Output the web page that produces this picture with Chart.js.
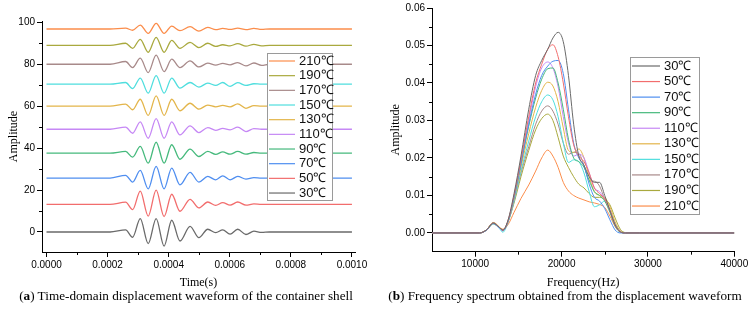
<!DOCTYPE html>
<html>
<head>
<meta charset="utf-8">
<script src="https://cdn.jsdelivr.net/npm/chart.js@4.4.0/dist/chart.umd.min.js"></script>
<style>
  body { margin: 0; width: 753px; height: 318px; background: #fff; position: relative; overflow: hidden; }
  canvas { position: absolute; top: 0; }
  #waveCanvas { left: 0; }
  #specCanvas { left: 380px; }
  .caption { position: absolute; top: 288px; font-family: "Liberation Serif", "DejaVu Serif", serif; font-size: 13.2px; color: #000; white-space: nowrap; transform: translateX(-50%); }
</style>
</head>
<body>
<canvas id="waveCanvas" width="378" height="290"></canvas>
<canvas id="specCanvas" width="373" height="290"></canvas>
<div class="caption" style="left:186px">(<b>a</b>) Time-domain displacement waveform of the container shell</div>
<div class="caption" style="left:565px">(<b>b</b>) Frequency spectrum obtained from the displacement waveform</div>
<script>
const tempLabels = ["30℃", "50℃", "70℃", "90℃", "110℃", "130℃", "150℃", "170℃", "190℃", "210℃"];
const lineColors = ["#6a6a6a", "#f26d6d", "#4f8ef0", "#45b97c", "#c688f5", "#e3b54a", "#4fdede", "#a88a8a", "#a9a93e", "#fb8d4b"];

// (a) time-domain waveforms, read at peaks / troughs
const waveTime = [0, 0.000208, 0.000259, 0.000282, 0.000307, 0.000333, 0.000359, 0.000385, 0.000410, 0.000437, 0.000470,
  0.000499, 0.000528, 0.000554, 0.000577, 0.000601, 0.000626, 0.000653, 0.000679, 0.000704, 0.000730, 0.001];
const wave30 = [0, 0, 1, -2.5, 6.4, -5.5, 6.4, -6.7, 5.6, -4.3, 2.7, -2.7, 1.3, -0.3, 1, -1, 1.3, -1.2, 0.4, -0.2, 0, 0];
const wave50 = [13.2, 13.2, 14.2, 10.7, 19.5, 7.6, 20.0, 7.4, 18.0, 9.9, 15.6, 11.5, 14.3, 12.7, 14.0, 12.8, 14.3, 12.8, 13.4, 13.2, 13.2, 13.2];
const wave70 = [25.7, 25.7, 27.0, 23.8, 29.4, 20.6, 31.3, 20.6, 30.5, 22.5, 28.4, 23.8, 26.5, 24.9, 26.8, 24.9, 26.5, 25.2, 25.9, 25.7, 25.7, 25.7];
const wave90 = [37.6, 37.6, 38.4, 35.7, 40.8, 32.8, 42.8, 32.8, 41.6, 34.7, 39.5, 36.0, 38.4, 37.0, 38.2, 37.1, 38.4, 37.1, 37.9, 37.6, 37.6, 37.6];
const wave110 = [49, 49, 50, 47.1, 52.5, 44.7, 54.1, 44.7, 52.5, 46.3, 50.6, 47.4, 49.8, 48.5, 49.4, 48.7, 50, 47.9, 49.3, 49, 49, 49];
const wave130 = [60, 60, 61, 58.3, 63.3, 55.6, 64.9, 55.6, 63.3, 57.8, 61.4, 58.6, 60.5, 59.7, 60.4, 59.7, 61.1, 59, 60.3, 60, 60, 60];
const wave150 = [70.5, 70.5, 71.3, 68.4, 73.4, 66.2, 74.6, 66.2, 73.4, 68.6, 71.3, 69.1, 71, 69.9, 71.3, 69.4, 71.2, 69.9, 70.7, 70.5, 70.5, 70.5];
const wave170 = [80, 80, 81.3, 78.4, 82.9, 76, 84.3, 76.5, 82.4, 78.4, 81.6, 78.7, 80.5, 79.6, 80.4, 79.7, 80.8, 79.2, 80.6, 79.5, 80, 80];
const wave190 = [89, 89, 90, 87.6, 91.9, 85.7, 92.8, 85.7, 91.4, 87.6, 90.4, 87.9, 90, 88.5, 89.3, 88.8, 89.8, 88.6, 89.5, 88.8, 89, 89];
const wave210 = [96.8, 96.8, 97.2, 96.2, 98.7, 94.7, 99.5, 94.7, 98.2, 96, 97.9, 95.8, 97.6, 96.5, 97.1, 96.6, 97.2, 96.5, 97.1, 96.6, 96.8, 96.8];
const waveSeries = [wave30, wave50, wave70, wave90, wave110, wave130, wave150, wave170, wave190, wave210];
const waveXTicks = [0, 0.0002, 0.0004, 0.0006, 0.0008, 0.001];
const waveXMinor = [0.0001, 0.0003, 0.0005, 0.0007, 0.0009];
const waveYTicks = [0, 20, 40, 60, 80, 100];
const waveYMinor = [10, 30, 50, 70, 90];

// (b) spectra
const specFreq = [5000, 10500, 11300, 12100, 12800, 13200, 13800, 14500, 15300, 16200, 17000, 17700, 18400, 19000, 19600,
  20200, 20800, 21400, 22000, 22600, 23200, 23800, 24400, 25000, 25600, 26200, 26800, 27400, 29000, 40000];
const spec30 = [0, 0, 0.0008, 0.0026, 0.0015, 0.0008, 0.0034, 0.0105, 0.0205, 0.0330, 0.0420, 0.0460, 0.0490, 0.0520, 0.0535, 0.0510, 0.0420, 0.0290, 0.0205, 0.0180, 0.0150, 0.0135, 0.0135, 0.0100, 0.0060, 0.0022, 0.0003, 0, 0, 0];
const spec50 = [0, 0, 0.0008, 0.0027, 0.0015, 0.0007, 0.0033, 0.0100, 0.0195, 0.0310, 0.0400, 0.0450, 0.0490, 0.0502, 0.0470, 0.0400, 0.0310, 0.0235, 0.0205, 0.0190, 0.0160, 0.0120, 0.0105, 0.0090, 0.0060, 0.0020, 0.0003, 0, 0, 0];
const spec70 = [0, 0, 0.0007, 0.0025, 0.0014, 0.0006, 0.0031, 0.0095, 0.0185, 0.0290, 0.0370, 0.0420, 0.0445, 0.0458, 0.0460, 0.0425, 0.0330, 0.0240, 0.0200, 0.0180, 0.0130, 0.0095, 0.0085, 0.0065, 0.0035, 0.0008, 0, 0, 0, 0];
const spec90 = [0, 0, 0.0008, 0.0027, 0.0015, 0.0007, 0.0031, 0.0095, 0.0185, 0.0285, 0.0360, 0.0410, 0.0438, 0.0440, 0.0400, 0.0330, 0.0250, 0.0200, 0.0190, 0.0175, 0.0140, 0.0110, 0.0100, 0.0085, 0.0055, 0.0018, 0.0002, 0, 0, 0];
const spec110 = [0, 0, 0.0008, 0.0026, 0.0014, 0.0006, 0.0031, 0.0095, 0.0190, 0.0300, 0.0390, 0.0440, 0.0456, 0.0440, 0.0390, 0.0310, 0.0240, 0.0205, 0.0210, 0.0200, 0.0160, 0.0120, 0.0110, 0.0090, 0.0060, 0.0022, 0.0003, 0, 0, 0];
const spec130 = [0, 0, 0.0008, 0.0028, 0.0016, 0.0006, 0.0030, 0.0090, 0.0175, 0.0265, 0.0335, 0.0380, 0.0402, 0.0392, 0.0350, 0.0280, 0.0220, 0.0215, 0.0224, 0.0200, 0.0150, 0.0110, 0.0100, 0.0095, 0.0070, 0.0030, 0.0005, 0, 0, 0];
const spec150 = [0, 0, 0.0007, 0.0024, 0.0012, 0.0002, 0.0028, 0.0085, 0.0165, 0.0245, 0.0310, 0.0350, 0.0368, 0.0355, 0.0310, 0.0240, 0.0188, 0.0195, 0.0190, 0.0160, 0.0110, 0.0070, 0.0075, 0.0085, 0.0060, 0.0025, 0.0004, 0, 0, 0];
const spec170 = [0, 0, 0.0008, 0.0027, 0.0015, 0.0007, 0.0030, 0.0085, 0.0160, 0.0230, 0.0290, 0.0325, 0.0339, 0.0325, 0.0290, 0.0240, 0.0210, 0.0215, 0.0212, 0.0180, 0.0140, 0.0138, 0.0125, 0.0090, 0.0060, 0.0025, 0.0005, 0, 0, 0];
const spec190 = [0, 0, 0.0008, 0.0026, 0.0015, 0.0008, 0.0030, 0.0080, 0.0150, 0.0220, 0.0275, 0.0305, 0.0317, 0.0300, 0.0255, 0.0205, 0.0175, 0.0150, 0.0130, 0.0120, 0.0105, 0.0095, 0.0095, 0.0090, 0.0075, 0.0040, 0.0010, 0.0001, 0, 0];
const spec210 = [0, 0, 0.0007, 0.0024, 0.0014, 0.0010, 0.0022, 0.0055, 0.0092, 0.0128, 0.0165, 0.0200, 0.0221, 0.0205, 0.0175, 0.0135, 0.0112, 0.0100, 0.0093, 0.0088, 0.0083, 0.0080, 0.0076, 0.0068, 0.0045, 0.0018, 0.0004, 0, 0, 0];
const specSeries = [spec30, spec50, spec70, spec90, spec110, spec130, spec150, spec170, spec190, spec210];
const specXTicks = [10000, 20000, 30000, 40000];
const specXMinor = [15000, 25000, 35000];
const specYTicks = [0, 0.01, 0.02, 0.03, 0.04, 0.05, 0.06];
const specYMinor = [0.005, 0.015, 0.025, 0.035, 0.045, 0.055];

const tickFont = { family: "'Liberation Sans', Arial, sans-serif", size: 10 };
const titleFont = { family: "'Liberation Serif', 'DejaVu Serif', serif", size: 12 };

const minorTicks = {
  id: "minorTicks",
  afterDraw(chart, args, opts) {
    const ctx = chart.ctx;
    const xs = chart.scales.x, ys = chart.scales.y;
    ctx.save();
    ctx.strokeStyle = "#000";
    ctx.lineWidth = 1;
    opts.x.forEach((v) => {
      const px = Math.round(xs.getPixelForValue(v)) + 0.5;
      ctx.beginPath(); ctx.moveTo(px, xs.top); ctx.lineTo(px, xs.top + 3); ctx.stroke();
    });
    opts.y.forEach((v) => {
      const py = Math.round(ys.getPixelForValue(v)) + 0.5;
      ctx.beginPath(); ctx.moveTo(ys.right, py); ctx.lineTo(ys.right - 3, py); ctx.stroke();
    });
    ctx.restore();
  },
};

const boxLegend = {
  id: "boxLegend",
  afterDraw(chart, args, o) {
    const ctx = chart.ctx;
    ctx.save();
    ctx.fillStyle = "#fff";
    ctx.fillRect(o.left, o.top, o.width, o.height);
    ctx.strokeStyle = "#9a9a9a";
    ctx.lineWidth = 1;
    ctx.strokeRect(o.left + 0.5, o.top + 0.5, o.width, o.height);
    ctx.font = "13px 'Liberation Sans', Arial, sans-serif";
    ctx.textBaseline = "middle";
    o.order.forEach((di, i) => {
      const ds = chart.data.datasets[di];
      const y = o.top + o.firstRow + i * o.rowGap;
      ctx.strokeStyle = ds.borderColor;
      ctx.lineWidth = 1.2;
      ctx.beginPath();
      ctx.moveTo(o.left + o.lineStart, y);
      ctx.lineTo(o.left + o.lineStart + o.lineLen, y);
      ctx.stroke();
      ctx.fillStyle = "#111";
      ctx.fillText(ds.label, o.left + o.textStart, y);
    });
    ctx.restore();
  },
};

const makeAxis = (min, max, ticks, title, size, fmt, titlePad) => ({
  type: "linear",
  min,
  max,
  afterBuildTicks: (scale) => { scale.ticks = ticks.map((v) => ({ value: v })); },
  afterFit: (scale) => {
    if (scale.isHorizontal()) scale.height = size; else scale.width = size;
  },
  border: { display: true, color: "#000", width: 1 },
  grid: { display: true, drawOnChartArea: false, drawTicks: true, tickLength: 5, tickColor: "#000" },
  ticks: { color: "#000", font: tickFont, padding: 2, maxRotation: 0, autoSkip: false, callback: fmt },
  title: { display: true, text: title, color: "#000", font: titleFont, padding: titlePad },
});

const buildDatasets = (xs, series, width) =>
  series.map((vals, s) => ({
    label: tempLabels[s],
    data: xs.map((x, i) => ({ x, y: vals[i] })),
    borderColor: lineColors[s],
    borderWidth: width,
    pointRadius: 0,
    cubicInterpolationMode: "monotone",
    fill: false,
  }));

new Chart(document.getElementById("waveCanvas").getContext("2d"), {
  type: "line",
  data: { datasets: buildDatasets(waveTime, waveSeries, 1.3) },
  options: {
    responsive: false,
    animation: false,
    layout: { padding: { left: 0, right: 23, top: 21, bottom: 0 } },
    scales: {
      x: makeAxis(-0.0000147, 0.00101, waveXTicks, "Time(s)", 38, (v) => Number(v).toFixed(4), { top: 0, bottom: 0 }),
      y: makeAxis(-9.54, 100.62, waveYTicks, "Amplitude", 42, (v) => String(v), { top: 7, bottom: 0 }),
    },
    plugins: {
      legend: { display: false },
      tooltip: { enabled: false },
      minorTicks: { x: waveXMinor, y: waveYMinor },
      boxLegend: { left: 267, top: 53, width: 65, height: 147, firstRow: 8, rowGap: 14.67, lineStart: 2, lineLen: 26, textStart: 32, order: [9, 8, 7, 6, 5, 4, 3, 2, 1, 0] },
    },
  },
  plugins: [minorTicks, boxLegend],
});

new Chart(document.getElementById("specCanvas").getContext("2d"), {
  type: "line",
  data: { datasets: buildDatasets(specFreq, specSeries, 1) },
  options: {
    responsive: false,
    animation: false,
    layout: { padding: { left: 0, right: 18.7, top: 7.3, bottom: 0 } },
    scales: {
      x: makeAxis(5000, 40000, specXTicks, "Frequency(Hz)", 38.3, (v) => String(v), { top: 0, bottom: 0 }),
      y: makeAxis(-0.005, 0.06, specYTicks, "Amplitude", 52, (v) => Number(v).toFixed(2), { top: 9, bottom: 0 }),
    },
    plugins: {
      legend: { display: false },
      tooltip: { enabled: false },
      minorTicks: { x: specXMinor, y: specYMinor },
      boxLegend: { left: 250, top: 57, width: 69, height: 157, firstRow: 9, rowGap: 15.56, lineStart: 2, lineLen: 28, textStart: 34, order: [0, 1, 2, 3, 4, 5, 6, 7, 8, 9] },
    },
  },
  plugins: [minorTicks, boxLegend],
});
</script>
</body>
</html>
